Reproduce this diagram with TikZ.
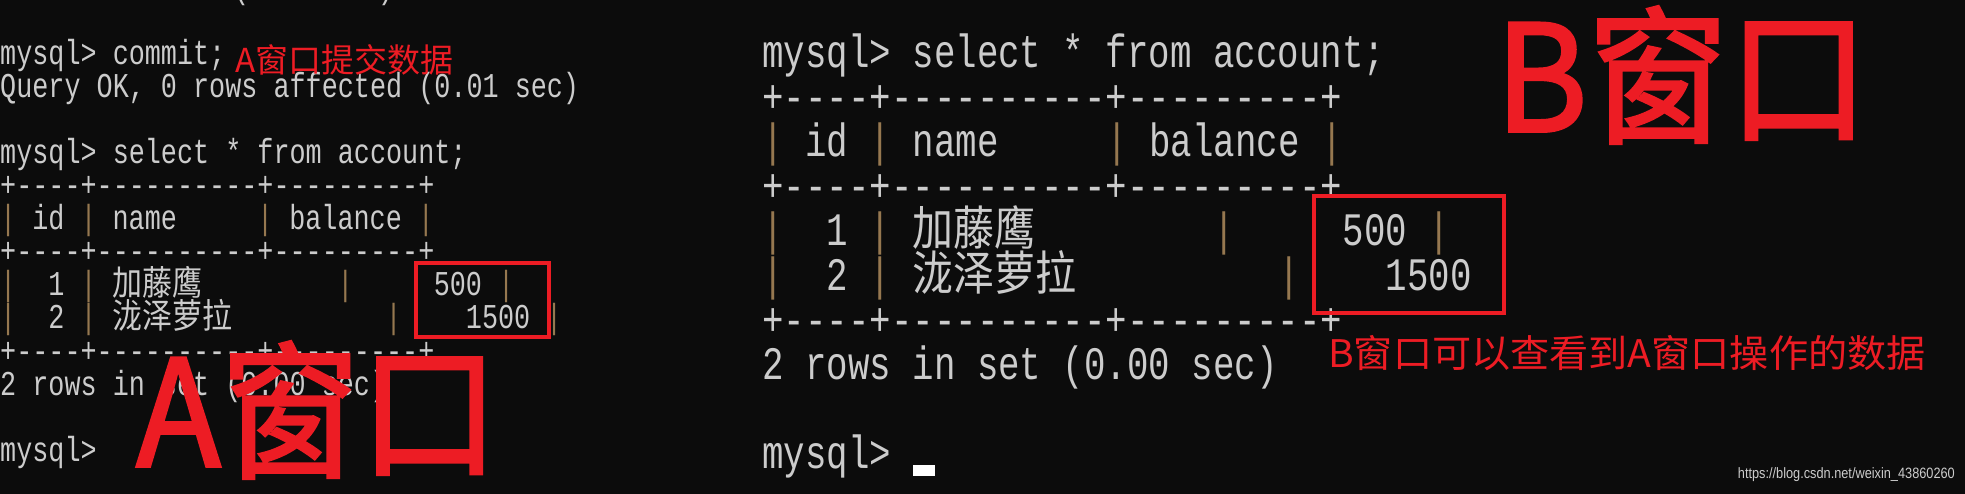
\documentclass[tikz,border=0pt]{standalone}
\usepackage{fontspec}
\usepackage{graphicx}
\newfontfamily\monof{Liberation Mono}
\newfontfamily\cjkf{Noto Sans CJK SC}
\newfontfamily\cjkfb[FakeBold=2]{Noto Sans CJK SC}
\newfontfamily\wmf{Liberation Sans}
\definecolor{bg}{HTML}{0C0C0C}
\definecolor{term}{HTML}{CCCCCC}
\definecolor{pipec}{RGB}{150,120,80}
\definecolor{redc}{HTML}{ED1C24}
\newcount\nn
\tikzset{
  tl/.style={anchor=base west,inner sep=0,text=term,font=\fontsize{26.8}{26.8}\selectfont\monof},
  tr/.style={anchor=base west,inner sep=0,text=term,font=\fontsize{35.8}{35.8}\selectfont\monof},
  cl/.style={anchor=base west,inner sep=0,text=term,font=\fontsize{30}{30}\selectfont\cjkf},
  cr/.style={anchor=base west,inner sep=0,text=term,font=\fontsize{41}{41}\selectfont\cjkf},
  redbox/.style={draw=redc,line width=3.5pt},
  redlbl/.style={anchor=west,inner sep=0,text=redc,font=\cjkf},
}
% left panel: col, line, text
\newcommand\Lc[3]{\global\advance\nn by 1 \node[tl] (c\the\nn) at ({#1*16.06},{65+33*#2}) {\scalebox{1}[1.3]{#3}};}
\newcommand\Lp[2]{\global\advance\nn by 1 \node[tl,text=pipec] (c\the\nn) at ({#1*16.06},{65+33*#2}) {\scalebox{1}[1.3]{|}};}
\newcommand\Lk[3]{\global\advance\nn by 1 \node[cl] (c\the\nn) at ({#1*16.06},{65+33*#2}) {\scalebox{1}[1.15]{#3}};}
\newcommand\Rc[3]{\global\advance\nn by 1 \node[tr] (c\the\nn) at ({762+#1*21.5},{68+44.5*#2}) {\scalebox{1}[1.3]{#3}};}
\newcommand\Rp[2]{\global\advance\nn by 1 \node[tr,text=pipec] (c\the\nn) at ({762+#1*21.5},{68+44.5*#2}) {\scalebox{1}[1.3]{|}};}
\newcommand\Rk[3]{\global\advance\nn by 1 \node[cr] (c\the\nn) at ({762+#1*21.5},{68+44.5*#2}) {\scalebox{1}[1.15]{#3}};}
\begin{document}
\begin{tikzpicture}[x=1pt,y=-1pt]
\useasboundingbox (0,0) rectangle (1965,494);
\fill[bg] (0,0) rectangle (1965,494);
\clip (0,0) rectangle (1965,494);
% ---------- left window ----------
\Lc{14.5}{-2}{(0.00 sec)}
\Lc{0}{0}{mysql> commit;}
\Lc{0}{1}{Query OK, 0 rows affected (0.01 sec)}
\Lc{0}{3}{mysql> select * from account;}
\Lc{0}{4}{+----+----------+---------+}
\Lp{0}{5}\Lc{2}{5}{id}\Lp{5}{5}\Lc{7}{5}{name}\Lp{16}{5}\Lc{18}{5}{balance}\Lp{26}{5}
\Lc{0}{6}{+----+----------+---------+}
\Lp{0}{7}\Lc{3}{7}{1}\Lp{5}{7}\Lk{7}{7}{加藤鹰}\Lp{21}{7}\Lc{27}{7}{500}\Lp{31}{7}
\Lp{0}{8}\Lc{3}{8}{2}\Lp{5}{8}\Lk{7}{8}{泷泽萝拉}\Lp{24}{8}\Lc{29}{8}{1500}\Lp{34}{8}
\Lc{0}{9}{+----+----------+---------+}
\Lc{0}{10}{2 rows in set (0.00 sec)}
\Lc{0}{12}{mysql>}
\node[redlbl,font=\fontsize{33}{33}\selectfont\cjkf] (lblA) at (235,60) {A窗口提交数据};
\draw[redbox] (416,263) rectangle (549,337);
\node[redlbl,font=\fontsize{148}{148}\selectfont\cjkfb] (bigA) at (136,410) {\scalebox{0.94}[1]{A窗口}};
% ---------- right window ----------
\Rc{0}{0}{mysql> select * from account;}
\Rc{0}{1}{+----+----------+---------+}
\Rp{0}{2}\Rc{2}{2}{id}\Rp{5}{2}\Rc{7}{2}{name}\Rp{16}{2}\Rc{18}{2}{balance}\Rp{26}{2}
\Rc{0}{3}{+----+----------+---------+}
\Rp{0}{4}\Rc{3}{4}{1}\Rp{5}{4}\Rk{7}{4}{加藤鹰}\Rp{21}{4}\Rc{27}{4}{500}\Rp{31}{4}
\Rp{0}{5}\Rc{3}{5}{2}\Rp{5}{5}\Rk{7}{5}{泷泽萝拉}\Rp{24}{5}\Rc{29}{5}{1500}\Rp{34}{5}
\Rc{0}{6}{+----+----------+---------+}
\Rc{0}{7}{2 rows in set (0.00 sec)}
\Rc{0}{9}{mysql>}
\node[fill=white,minimum width=22pt,minimum height=11pt,inner sep=0,anchor=north west] (cursor) at (913,465) {};
\draw[redbox] (1314,196) rectangle (1504,313);
\node[redlbl,font=\fontsize{38}{38}\selectfont\cjkf] (lblB) at (1328,353) {\scalebox{1.03}[1]{B窗口可以查看到A窗口操作的数据}};
\node[redlbl,font=\fontsize{148}{148}\selectfont\cjkfb] (bigB) at (1495,75) {\scalebox{0.95}[1]{B窗口}};
\node[anchor=base east,inner sep=0,text=term,font=\fontsize{15}{15}\selectfont\wmf] (wm) at (1955,478) {\scalebox{0.85}[1]{https://blog.csdn.net/weixin\_43860260}};
\end{tikzpicture}
\end{document}
